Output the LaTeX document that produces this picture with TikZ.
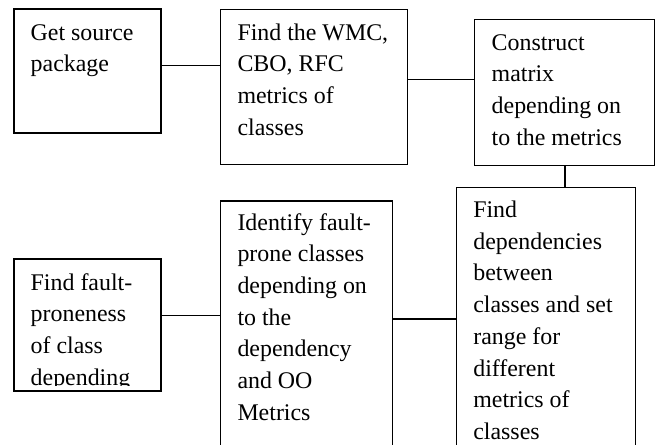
\documentclass[tikz,border=0pt]{standalone}
\usepackage{fontspec}
\setmainfont{Liberation Serif}
\newcommand{\boxtext}[1]{\parbox[t]{200pt}{\fontsize{23.9}{31.7}\selectfont\raggedright #1}}
\begin{document}
\begin{tikzpicture}[x=1pt,y=-1pt,
  box/.style={draw=black,line width=1.5pt,rectangle,inner sep=0pt,outer sep=0pt,anchor=north west},
  txt/.style={anchor=base west,inner sep=0pt,outer sep=0pt},
  link/.style={draw=black,line width=1.5pt}]
\useasboundingbox (0,0) rectangle (657,445);
\clip (0,0) rectangle (657,445);
% boxes
\node[box,minimum width=147pt,minimum height=124pt] (b1) at (14,9) {};
\node[box,minimum width=187pt,minimum height=155pt] (b2) at (220.3,9.3) {};
\node[box,minimum width=180pt,minimum height=146pt] (b3) at (474.3,19.3) {};
\node[box,minimum width=179pt,minimum height=280pt] (b4) at (456.7,187.5) {};
\node[box,minimum width=172pt,minimum height=280pt] (b5) at (220.3,201) {};
\node[box,minimum width=147pt,minimum height=132pt] (b6) at (14,259) {};
% texts
\node[txt] (t1) at (30.7,40) {\boxtext{Get source\\package}};
\node[txt] (t2) at (237.5,40) {\boxtext{Find the WMC,\\CBO, RFC\\metrics of\\classes}};
\node[txt] (t3) at (491.7,50) {\boxtext{Construct\\matrix\\depending on\\to the metrics}};
\begin{scope}
\clip (b4.north west) rectangle ([yshift=-251.5pt]b4.north east);
\node[txt] (t4) at (473.3,217.5) {\boxtext{Find\\dependencies\\between\\classes and set\\range for\\different\\metrics of\\classes}};
\end{scope}
\node[txt] (t5) at (237.5,230) {\boxtext{Identify fault-\\prone classes\\depending on\\to the\\dependency\\and OO\\Metrics}};
\begin{scope}
\clip (b6.north west) rectangle ([yshift=6pt]b6.south east);
\node[txt] (t6) at (30.7,290) {\boxtext{Find fault-\\proneness\\of class\\depending}};
\end{scope}
% connectors
\draw[link] (b1.east |- 0,65.7) -- (b2.west |- 0,65.7);
\draw[link] (b2.east |- 0,79.3) -- (b3.west |- 0,79.3);
\draw[link] (b3.south -| 565,0) -- (b4.north -| 565,0);
\draw[link] (b5.east |- 0,319) -- (b4.west |- 0,319);
\draw[link] (b6.east |- 0,315.7) -- (b5.west |- 0,315.7);
\end{tikzpicture}
\end{document}
